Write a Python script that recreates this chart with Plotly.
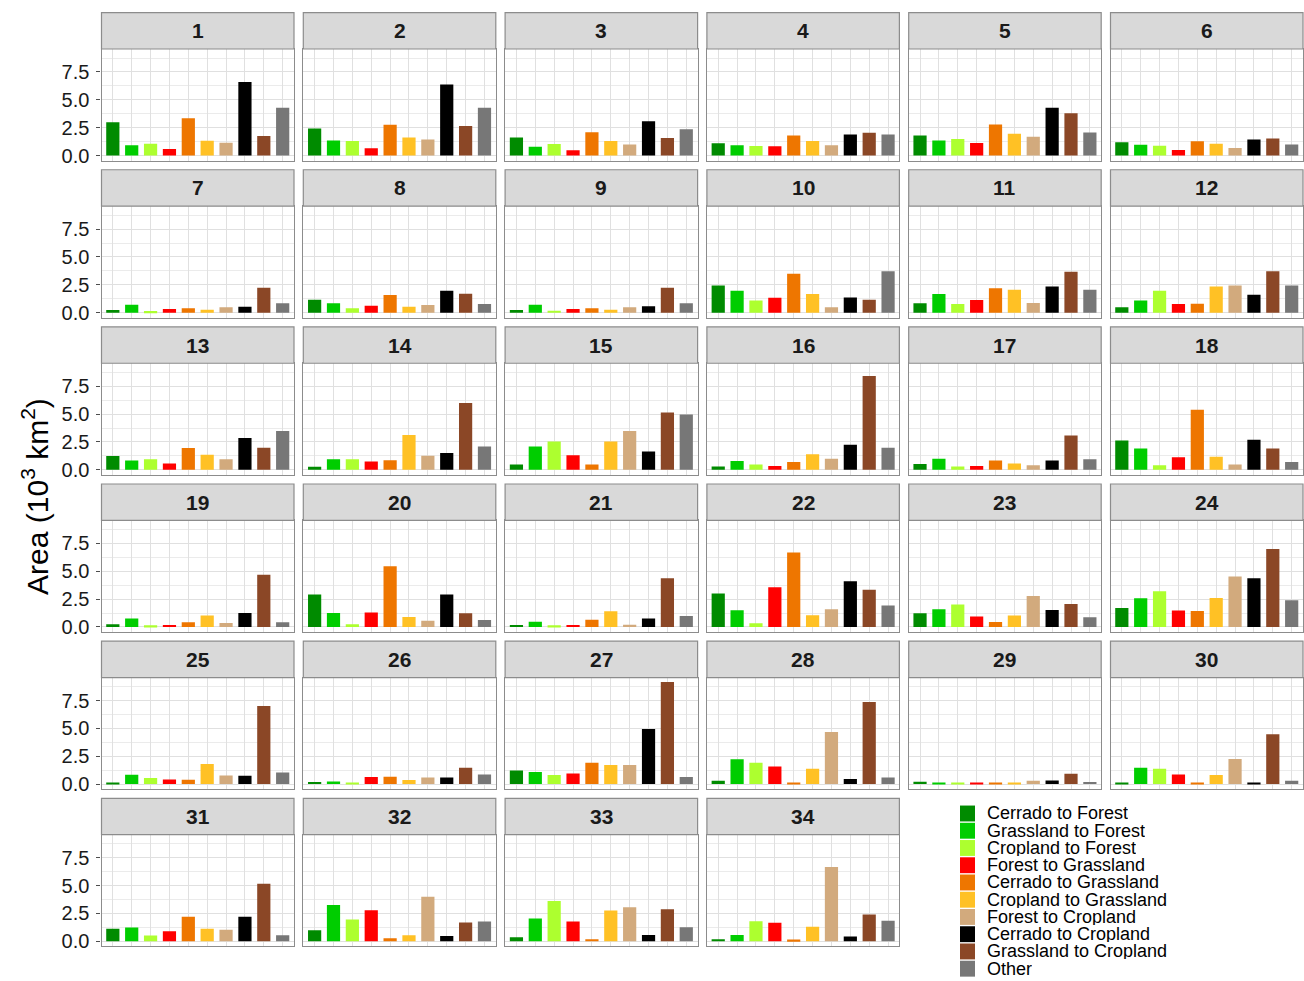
import plotly.graph_objects as go

# ---------------- data ----------------
categories = [
    "Cerrado to Forest", "Grassland to Forest", "Cropland to Forest",
    "Forest to Grassland", "Cerrado to Grassland", "Cropland to Grassland",
    "Forest to Cropland", "Cerrado to Cropland", "Grassland to Cropland", "Other",
]
colors = ["#008B00", "#00CD00", "#ADFF2F", "#FF0000", "#EE7600",
          "#FFC125", "#D2AA7D", "#000000", "#8B4726", "#777777"]
regions = [str(i) for i in range(1, 35)]

cerrado_to_forest = [3.0, 2.43, 1.63, 1.1, 1.81, 1.19, 0.24, 1.16, 0.24, 2.45, 0.84, 0.48, 1.24, 0.27, 0.47, 0.3, 0.53,
                     2.63, 0.24, 2.91, 0.18, 3.0, 1.23, 1.71, 0.09, 0.18, 1.23, 0.3, 0.21, 0.06, 1.11, 0.99, 0.36, 0.18]
grassland_to_forest = [0.92, 1.36, 0.8, 0.92, 1.36, 0.98, 0.72, 0.84, 0.72, 1.97, 1.67, 1.1, 0.83, 0.94, 2.1, 0.8, 1.0,
                       1.92, 0.75, 1.26, 0.48, 1.5, 1.59, 2.58, 0.84, 0.24, 1.08, 2.22, 0.15, 1.47, 1.23, 3.24, 2.04, 0.57]
cropland_to_forest = [1.07, 1.31, 1.04, 0.86, 1.48, 0.89, 0.15, 0.39, 0.18, 1.1, 0.78, 1.97, 0.94, 0.94, 2.54, 0.47, 0.3,
                      0.41, 0.15, 0.24, 0.15, 0.33, 2.01, 3.21, 0.54, 0.06, 0.81, 1.92, 0.06, 1.38, 0.51, 1.95, 3.6, 1.8]
forest_to_grassland = [0.59, 0.65, 0.47, 0.83, 1.13, 0.5, 0.33, 0.63, 0.33, 1.34, 1.13, 0.78, 0.56, 0.74, 1.3, 0.35, 0.35,
                       1.12, 0.18, 1.29, 0.18, 3.57, 0.93, 1.47, 0.42, 0.63, 0.96, 1.59, 0.12, 0.87, 0.9, 2.79, 1.77, 1.65]
cerrado_to_grassland = [3.35, 2.76, 2.1, 1.81, 2.79, 1.28, 0.39, 1.58, 0.39, 3.5, 2.2, 0.81, 1.95, 0.86, 0.47, 0.71, 0.83,
                        5.4, 0.42, 5.44, 0.66, 6.67, 0.45, 1.44, 0.39, 0.66, 1.92, 0.15, 0.12, 0.12, 2.19, 0.27, 0.18, 0.15]
cropland_to_grassland = [1.34, 1.63, 1.3, 1.3, 1.96, 1.07, 0.27, 0.54, 0.27, 1.67, 2.06, 2.36, 1.36, 3.13, 2.54, 1.39, 0.56,
                         1.18, 1.02, 0.9, 1.41, 1.05, 1.02, 2.61, 1.8, 0.36, 1.71, 1.38, 0.12, 0.81, 1.11, 0.54, 2.76, 1.29]
forest_to_cropland = [1.16, 1.45, 1.0, 0.92, 1.69, 0.68, 0.48, 0.69, 0.48, 0.48, 0.87, 2.45, 0.94, 1.27, 3.48, 1.0, 0.41,
                      0.47, 0.36, 0.57, 0.21, 1.59, 2.79, 4.53, 0.78, 0.6, 1.71, 4.68, 0.3, 2.25, 1.02, 3.99, 3.06, 6.67]
cerrado_to_cropland = [6.6, 6.38, 3.09, 1.9, 4.3, 1.45, 0.54, 1.97, 0.57, 1.37, 2.36, 1.61, 2.86, 1.5, 1.65, 2.24, 0.83,
                       2.69, 1.26, 2.91, 0.75, 4.11, 1.53, 4.38, 0.75, 0.6, 4.95, 0.45, 0.33, 0.12, 2.19, 0.48, 0.57, 0.42]
grassland_to_cropland = [1.75, 2.65, 1.57, 2.05, 3.8, 1.54, 2.24, 1.7, 2.24, 1.16, 3.67, 3.73, 1.98, 5.99, 5.14, 8.41, 3.07,
                         1.92, 4.68, 1.23, 4.38, 3.33, 2.07, 7.0, 7.0, 1.47, 9.15, 7.36, 0.93, 4.47, 5.16, 1.68, 2.88, 2.4]
other = [4.3, 4.3, 2.37, 1.9, 2.08, 1.0, 0.84, 0.78, 0.84, 3.73, 2.06, 2.45, 3.48, 2.1, 4.96, 1.98, 0.94,
         0.71, 0.42, 0.63, 0.99, 1.92, 0.87, 2.4, 1.05, 0.87, 0.63, 0.6, 0.18, 0.3, 0.54, 1.77, 1.26, 1.83]

series = [cerrado_to_forest, grassland_to_forest, cropland_to_forest, forest_to_grassland,
          cerrado_to_grassland, cropland_to_grassland, forest_to_cropland, cerrado_to_cropland,
          grassland_to_cropland, other]

y_ticks = [0, 2.5, 5.0, 7.5]
y_minor = [1.25, 3.75, 6.25, 8.75]

# ---------------- layout geometry (window pixels) ----------------
W, H = 1304, 981
ncol = 6
left0, pitch_x, pw = 101.5, 201.8, 192.5
top0, pitch_y, strip_h, ph = 12.7, 158.1, 36.6, 112.4
FONT = "Liberation Sans, Arial, sans-serif"
BORDER = "#8C8C8C"
GRID = "#E0E0E0"
GRID_MINOR = "#EBEBEB"


def px(x):
    return x / W


def py(y):
    return 1 - y / H


fig = go.Figure()
shapes, annotations = [], []
layout_axes = {}

for i, reg in enumerate(regions):
    r, c = divmod(i, ncol)
    n = i + 1
    sfx = "" if n == 1 else str(n)
    x0 = left0 + c * pitch_x
    x1 = x0 + pw
    st = top0 + r * pitch_y
    pt = st + strip_h
    pb = pt + ph

    fig.add_trace(go.Bar(
        x=categories, y=[s[i] for s in series],
        marker=dict(color=colors, line=dict(width=0)),
        width=0.7, xaxis="x" + sfx, yaxis="y" + sfx,
        showlegend=False, name=reg,
    ))

    first_col = c == 0
    layout_axes["xaxis" + sfx] = dict(
        domain=[px(x0), px(x1)], anchor="y" + sfx, type="category",
        categoryorder="array", categoryarray=categories,
        range=[-0.6, 9.6], showticklabels=False, ticks="",
        showgrid=True, gridcolor=GRID, gridwidth=1.1,
        showline=True, linecolor=BORDER, linewidth=1.2, mirror=True,
        zeroline=False, fixedrange=True,
    )
    layout_axes["yaxis" + sfx] = dict(
        domain=[py(pb), py(pt)], anchor="x" + sfx,
        range=[-0.46, 9.56], tickvals=y_ticks, tickformat=".1f",
        showticklabels=first_col, ticks="outside" if first_col else "",
        ticklen=4, tickwidth=1, tickcolor="#4D4D4D", ticklabelstandoff=3,
        tickfont=dict(family=FONT, size=20, color="#1A1A1A"),
        showgrid=True, gridcolor=GRID, gridwidth=1.1,
        minor=dict(tickvals=y_minor, showgrid=True, gridcolor=GRID_MINOR, gridwidth=0.7),
        showline=True, linecolor=BORDER, linewidth=1.2, mirror=True,
        zeroline=False, fixedrange=True,
    )

    # facet strip
    shapes.append(dict(type="rect", xref="paper", yref="paper",
                       x0=px(x0), x1=px(x1), y0=py(pt), y1=py(st),
                       fillcolor="#D9D9D9", line=dict(color=BORDER, width=1.2), layer="above"))
    annotations.append(dict(xref="paper", yref="paper", x=px((x0 + x1) / 2), y=py((st + pt) / 2),
                            text="<b>%s</b>" % reg, showarrow=False, xanchor="center", yanchor="middle",
                            font=dict(family=FONT, size=21, color="#1A1A1A")))

# y-axis title
annotations.append(dict(xref="paper", yref="paper", x=px(35), y=py(500),
                        text="Area (10<sup>3</sup> km<sup>2</sup>)", textangle=-90,
                        showarrow=False, xanchor="center", yanchor="middle",
                        font=dict(family=FONT, size=30, color="#000000")))

# legend (drawn from the category / colour lists)
leg_x0, leg_y0, leg_pitch, key = 960, 818.5, 17.35, 16
for k, (cat, col) in enumerate(zip(categories, colors)):
    cy = leg_y0 + k * leg_pitch
    shapes.append(dict(type="rect", xref="paper", yref="paper",
                       x0=px(leg_x0), x1=px(leg_x0 + 15), y0=py(cy + key / 2), y1=py(cy - key / 2),
                       fillcolor=col, line=dict(width=0)))
    annotations.append(dict(xref="paper", yref="paper", x=px(985), y=py(cy), text=cat,
                            showarrow=False, xanchor="left", yanchor="middle", height=16,
                            font=dict(family=FONT, size=18, color="#000000")))

fig.update_layout(
    width=W, height=H, margin=dict(l=0, r=0, t=0, b=0),
    paper_bgcolor="white", plot_bgcolor="white",
    showlegend=False, bargap=0.3,
    shapes=shapes, annotations=annotations,
    **layout_axes,
)

fig.write_html(
    "out.html",
    config={"displayModeBar": False},
    post_script="document.body.style.margin='0';document.body.style.overflow='hidden';",
)
